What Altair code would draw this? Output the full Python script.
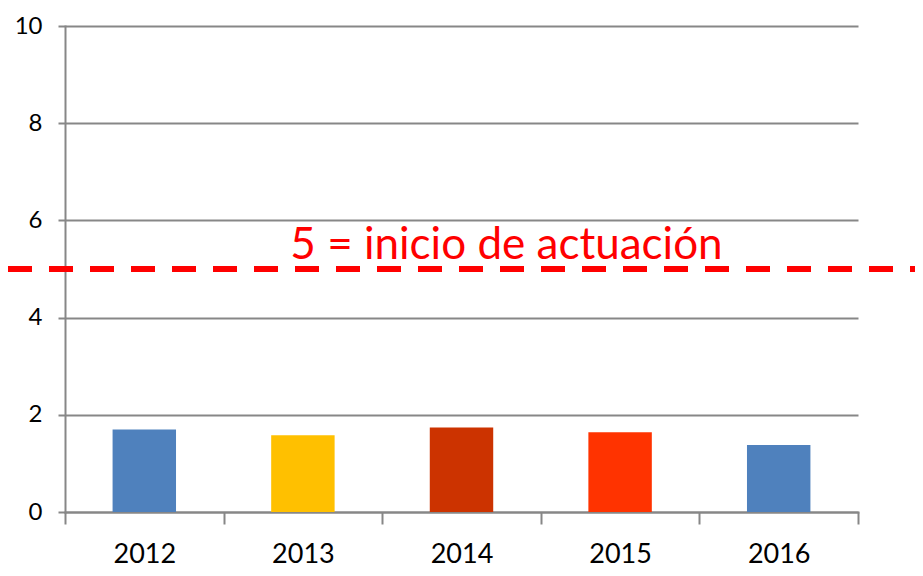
import altair as alt
import pandas as pd

years = ["2012", "2013", "2014", "2015", "2016"]
values = [1.70, 1.58, 1.74, 1.64, 1.38]
colors = ["#4F81BD", "#FFC000", "#CC3300", "#FF3300", "#4F81BD"]

threshold = 5
threshold_label = "5 = inicio de actuación"

df = pd.DataFrame({"year": years, "value": values})
ref = pd.DataFrame({"y": [threshold], "label": [threshold_label], "year": ["2014"]})

FONT = "Lato"
GRAY = "#878787"

x_enc = alt.X(
    "year:N",
    sort=years,
    scale=alt.Scale(paddingInner=0, paddingOuter=0),
    axis=alt.Axis(
        title=None, labelAngle=0, tickBand="extent", tickSize=12, tickWidth=2,
        tickColor=GRAY, domainColor=GRAY, domainWidth=2, labelFont=FONT,
        labelFontSize=27, labelColor="#000000", labelPadding=17, grid=False,
    ),
)

bars = alt.Chart(df).mark_bar(width=alt.RelativeBandSize(0.4)).encode(
    x=x_enc,
    y=alt.Y(
        "value:Q",
        scale=alt.Scale(domain=[0, 10]),
        axis=alt.Axis(
            title=None, values=[0, 2, 4, 6, 8, 10], tickSize=7, tickWidth=2,
            tickColor=GRAY, domainColor=GRAY, domainWidth=2, gridColor=GRAY,
            gridWidth=2, gridOpacity=1, labelFont=FONT, labelFontSize=24,
            labelColor="#000000", labelPadding=16,
        ),
    ),
    color=alt.Color("year:N", scale=alt.Scale(domain=years, range=colors), legend=None),
)

rule = alt.Chart(ref).mark_rule(
    color="#FF0000", strokeWidth=6, strokeDash=[24, 17]
).encode(
    y="y:Q",
    x=alt.value(-57),
    x2=alt.value(850),
)

text = alt.Chart(ref).mark_text(
    color="#FF0000", font=FONT, fontSize=44, align="center", baseline="alphabetic",
    dx=45, dy=-10,
).encode(
    x=alt.X("year:N", sort=years),
    y="y:Q",
    text="label:N",
)

chart = alt.layer(bars, rule, text).properties(
    width=793, height=486,
    padding={"left": 57, "top": 18, "right": 57, "bottom": 56},
    autosize=alt.AutoSizeParams(type="none"),
).configure_view(stroke=None).configure_axis(domainCap="square")

chart.save("out.html", embed_options={"renderer": "svg", "actions": False})
